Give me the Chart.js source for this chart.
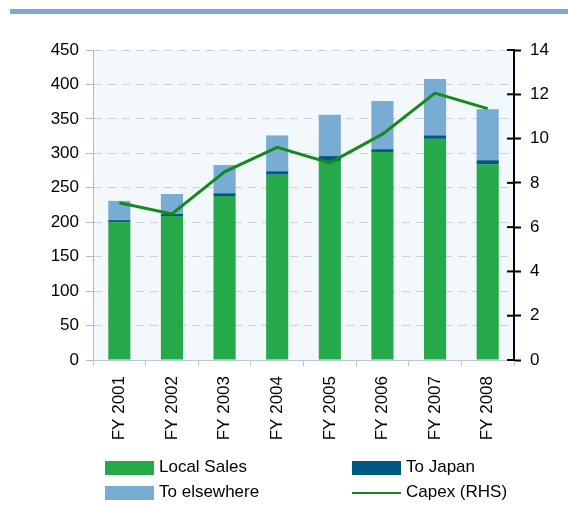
<!DOCTYPE html>
<html>
<head>
<meta charset="utf-8">
<script src="https://cdn.jsdelivr.net/npm/chart.js@4.4.1/dist/chart.umd.min.js"></script>
<style>
    body { margin: 0; background: #ffffff; }
    #wrap { position: relative; width: 568px; height: 505px; overflow: hidden; }
    #band { position: absolute; left: 10px; top: 9px; width: 558px; height: 5px; background: #81a6d4; }
    #legend { position: absolute; left: 0; top: 0; width: 568px; height: 505px; pointer-events: none;
              font-family: 'Liberation Sans', Arial, sans-serif; font-size: 17px; color: #000; }
    .item { position: absolute; height: 14px; line-height: 14px; white-space: nowrap; }
    .swatch { position: absolute; left: 0; top: 0; width: 49px; height: 14px; }
    .label { position: absolute; left: 54px; top: -1px; }
</style>
</head>
<body>
<div id="wrap">
    <canvas id="chart" width="568" height="505"></canvas>
    <div id="band"></div>
    <div id="legend"></div>
</div>
<script>
// Données
const years = ['FY 2001', 'FY 2002', 'FY 2003', 'FY 2004', 'FY 2005', 'FY 2006', 'FY 2007', 'FY 2008'];
const localSales = [200, 209, 238, 269, 289, 302, 321, 284];
const toJapan = [3, 3, 4, 5, 7, 4, 5, 6];
const toElsewhere = [28, 29, 41, 52, 60, 70, 82, 74];
const capex = [7.1, 6.6, 8.5, 9.6, 8.9, 10.2, 12.05, 11.35];

const leftTicks = [0, 50, 100, 150, 200, 250, 300, 350, 400, 450];
const rightTicks = [0, 2, 4, 6, 8, 10, 12, 14];

const COLORS = {
    local: '#25a94a',
    japan: '#00577f',
    elsewhere: '#79acd3',
    capex: '#138a1c'
};

const FONT = { family: "'Liberation Sans', Arial, sans-serif", size: 17 };

/**
 * Fond bleu pâle de la zone de tracé + petits traits intérieurs de l'axe droit
 */
const plotExtras = {
    id: 'plotExtras',
    beforeDraw(chart) {
        const { ctx, chartArea } = chart;
        ctx.save();
        ctx.fillStyle = '#f3f8fc';
        ctx.fillRect(chartArea.left, chartArea.top, chartArea.right - chartArea.left, chartArea.bottom - chartArea.top);
        ctx.restore();
    },
    afterDraw(chart) {
        const { ctx } = chart;
        const scale = chart.scales.y1;
        ctx.save();
        ctx.strokeStyle = '#000';
        ctx.lineWidth = 2;
        scale.ticks.forEach(t => {
            const y = scale.getPixelForValue(t.value);
            ctx.beginPath();
            ctx.moveTo(scale.left - 7, y);
            ctx.lineTo(scale.left, y);
            ctx.stroke();
        });
        ctx.restore();
    }
};

const ctx = document.getElementById('chart').getContext('2d');

const chart = new Chart(ctx, {
    type: 'bar',
    data: {
        labels: years,
        datasets: [
            { label: 'Capex (RHS)', type: 'line', data: capex, yAxisID: 'y1', borderColor: COLORS.capex,
              backgroundColor: COLORS.capex, borderWidth: 3, pointRadius: 0, tension: 0, order: 0 },
            { label: 'Local Sales', data: localSales, backgroundColor: COLORS.local, yAxisID: 'y', order: 1 },
            { label: 'To Japan', data: toJapan, backgroundColor: COLORS.japan, yAxisID: 'y', order: 1 },
            { label: 'To elsewhere', data: toElsewhere, backgroundColor: COLORS.elsewhere, yAxisID: 'y', order: 1 }
        ]
    },
    options: {
        responsive: false,
        animation: false,
        layout: { padding: { top: 50, left: 0, right: 0, bottom: 0 } },
        datasets: { bar: { categoryPercentage: 1, barPercentage: 0.42 } },
        plugins: { legend: { display: false }, tooltip: { enabled: false } },
        scales: {
            x: {
                stacked: true,
                offset: true,
                afterFit: s => { s.height = 145; },
                grid: { drawOnChartArea: false, offset: true, tickLength: 6, color: '#b9c8d6' },
                border: { color: '#b9c8d6', width: 1 },
                ticks: { font: FONT, color: '#000', minRotation: 90, maxRotation: 90, padding: 10 }
            },
            y: {
                stacked: true,
                position: 'left',
                min: 0,
                max: 450,
                afterFit: s => { s.width = 93; },
                afterBuildTicks: s => { s.ticks = leftTicks.map(v => ({ value: v })); },
                grid: { color: '#c8d2dc', lineWidth: 1, tickLength: 7,
                        tickColor: '#a9bccd', tickBorderDash: [] },
                border: { color: '#a9bccd', width: 1, dash: [8, 6] },
                ticks: { font: FONT, color: '#000', padding: 7 }
            },
            y1: {
                position: 'right',
                min: 0,
                max: 14,
                afterFit: s => { s.width = 54; },
                afterBuildTicks: s => { s.ticks = rightTicks.map(v => ({ value: v })); },
                grid: { drawOnChartArea: false, tickLength: 7, tickColor: '#000', tickWidth: 2 },
                border: { color: '#000', width: 2 },
                ticks: { font: FONT, color: '#000', padding: 9 }
            }
        }
    },
    plugins: [plotExtras]
});

// Légende en HTML, disposée en deux colonnes comme l'original
const legendItems = [
    { text: 'Local Sales', color: COLORS.local, left: 105, top: 461, line: false },
    { text: 'To Japan', color: COLORS.japan, left: 352, top: 461, line: false },
    { text: 'To elsewhere', color: COLORS.elsewhere, left: 105, top: 486, line: false },
    { text: 'Capex (RHS)', color: COLORS.capex, left: 352, top: 486, line: true }
];
const legend = document.getElementById('legend');
legendItems.forEach(it => {
    const div = document.createElement('div');
    div.className = 'item';
    div.style.left = it.left + 'px';
    div.style.top = it.top + 'px';
    const sw = document.createElement('span');
    sw.className = 'swatch';
    sw.style.background = it.color;
    if (it.line) { sw.style.height = '2px'; sw.style.top = '6px'; }
    const lb = document.createElement('span');
    lb.className = 'label';
    lb.textContent = it.text;
    div.appendChild(sw);
    div.appendChild(lb);
    legend.appendChild(div);
});
</script>
</body>
</html>
